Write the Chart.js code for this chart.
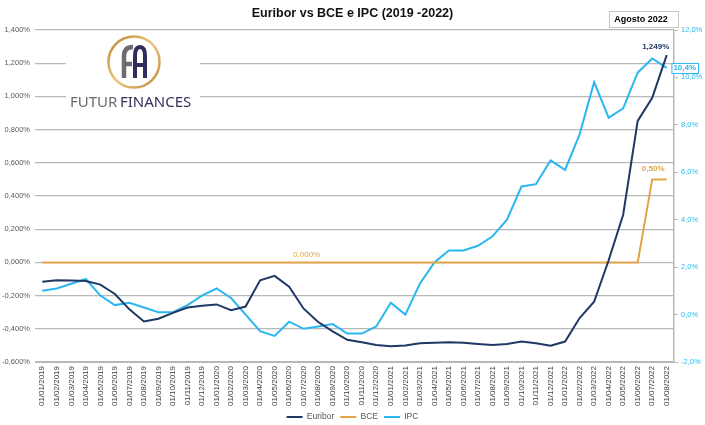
<!DOCTYPE html>
<html>
<head>
<meta charset="utf-8">
<script src="https://cdn.jsdelivr.net/npm/chart.js@4.4.1/dist/chart.umd.min.js"></script>
<style>
  html, body { margin: 0; padding: 0; background: #fff; }
  #wrap { width: 705px; height: 425px; }
</style>
</head>
<body>
<div id="wrap"><canvas id="chart"></canvas></div>
<script>
// Monthly data, 01/2019 - 08/2022
const months = [
    '01/01/2019', '01/02/2019', '01/03/2019', '01/04/2019', '01/05/2019', '01/06/2019',
    '01/07/2019', '01/08/2019', '01/09/2019', '01/10/2019', '01/11/2019', '01/12/2019',
    '01/01/2020', '01/02/2020', '01/03/2020', '01/04/2020', '01/05/2020', '01/06/2020',
    '01/07/2020', '01/08/2020', '01/09/2020', '01/10/2020', '01/11/2020', '01/12/2020',
    '01/01/2021', '01/02/2021', '01/03/2021', '01/04/2021', '01/05/2021', '01/06/2021',
    '01/07/2021', '01/08/2021', '01/09/2021', '01/10/2021', '01/11/2021', '01/12/2021',
    '01/01/2022', '01/02/2022', '01/03/2022', '01/04/2022', '01/05/2022', '01/06/2022',
    '01/07/2022', '01/08/2022'
];

// Euribor 12M (%), left axis
const euribor = [
    -0.116, -0.108, -0.109, -0.112, -0.134, -0.190, -0.283, -0.356, -0.339, -0.304, -0.272, -0.261,
    -0.253, -0.288, -0.266, -0.108, -0.081, -0.147, -0.279, -0.359, -0.415, -0.466, -0.481, -0.497,
    -0.505, -0.501, -0.487, -0.484, -0.481, -0.484, -0.491, -0.498, -0.492, -0.477, -0.487, -0.502,
    -0.477, -0.335, -0.237, 0.013, 0.287, 0.852, 0.992, 1.249
];

// BCE rate (%), left axis
const bce = [
    0, 0, 0, 0, 0, 0, 0, 0, 0, 0, 0, 0,
    0, 0, 0, 0, 0, 0, 0, 0, 0, 0, 0, 0,
    0, 0, 0, 0, 0, 0, 0, 0, 0, 0, 0, 0,
    0, 0, 0, 0, 0, 0, 0.5, 0.5
];

// IPC (%), right axis
const ipc = [
    1.0, 1.1, 1.3, 1.5, 0.8, 0.4, 0.5, 0.3, 0.1, 0.1, 0.4, 0.8,
    1.1, 0.7, 0.0, -0.7, -0.9, -0.3, -0.6, -0.5, -0.4, -0.8, -0.8, -0.5,
    0.5, 0.0, 1.3, 2.2, 2.7, 2.7, 2.9, 3.3, 4.0, 5.4, 5.5, 6.5,
    6.1, 7.6, 9.8, 8.3, 8.7, 10.2, 10.8, 10.4
];

const leftTicks = { min: -0.6, max: 1.4, step: 0.2 };
const rightTicks = { min: -2, max: 12, step: 2 };

const NAVY = '#1f3864';
const GOLD = '#e1a548';
const SKY = '#2bb7ef';
const GRID = '#b8b8b8';

function pct(v, d) {
    return v.toFixed(d).replace('.', ',') + '%';
}

// point labels drawn next to a few points
const pointLabels = [
    { ds: 1, i: 18, dec: 3, color: GOLD, bold: false, dx: 3, dy: -8 },
    { ds: 1, i: 42, dec: 2, color: GOLD, bold: true, dx: 1, dy: -11 },
    { ds: 0, i: 43, dec: 3, color: NAVY, bold: true, dx: -11, dy: -8 },
    { ds: 2, i: 43, dec: 1, color: SKY, bold: true, dx: 18, dy: 0, box: true }
];

const labelPlugin = {
    id: 'pointLabels',
    afterDatasetsDraw(chart) {
        const ctx = chart.ctx;
        ctx.save();
        ctx.textAlign = 'center';
        ctx.textBaseline = 'middle';
        pointLabels.forEach(l => {
            const pt = chart.getDatasetMeta(l.ds).data[l.i];
            const val = chart.data.datasets[l.ds].data[l.i];
            const txt = pct(val, l.dec);
            const x = pt.x + l.dx, y = pt.y + l.dy;
            ctx.font = (l.bold ? 'bold ' : '') + '8px "Liberation Sans", Arial, sans-serif';
            if (l.box) {
                const w = ctx.measureText(txt).width + 4;
                ctx.fillStyle = '#fff';
                ctx.fillRect(x - w / 2, y - 5, w, 10);
                ctx.strokeStyle = SKY;
                ctx.lineWidth = 1;
                ctx.strokeRect(x - w / 2 + 0.5, y - 4.5, w, 10);
            }
            ctx.fillStyle = l.color;
            ctx.fillText(txt, x, y);
        });
        // "Agosto 2022" box
        ctx.fillStyle = '#fff';
        ctx.fillRect(609, 11, 70, 17);
        ctx.strokeStyle = '#c8c8c8';
        ctx.strokeRect(609.5, 11.5, 69, 16);
        ctx.fillStyle = '#000';
        ctx.font = 'bold 9px "Liberation Sans", Arial, sans-serif';
        ctx.fillText('Agosto 2022', 641, 20);
        ctx.restore();
    }
};

const logoPlugin = {
    id: 'logo',
    beforeDatasetsDraw(chart) {
        const ctx = chart.ctx;
        ctx.save();
        ctx.fillStyle = '#fff';
        ctx.fillRect(66, 34, 134, 78);
        // gold ring
        const g = ctx.createLinearGradient(108, 36, 160, 88);
        g.addColorStop(0, '#b8812d');
        g.addColorStop(0.5, '#ecc680');
        g.addColorStop(1, '#bf8832');
        ctx.strokeStyle = g;
        ctx.lineWidth = 2.5;
        ctx.beginPath();
        ctx.arc(134, 62, 25.5, 0, Math.PI * 2);
        ctx.stroke();
        // F (grey)
        ctx.lineCap = 'butt';
        ctx.strokeStyle = '#6e6a71';
        ctx.lineWidth = 4.5;
        ctx.beginPath();
        ctx.moveTo(124, 78);
        ctx.lineTo(124, 56);
        ctx.quadraticCurveTo(124, 47, 133, 47);
        ctx.moveTo(124, 64);
        ctx.lineTo(132, 64);
        ctx.stroke();
        // A (navy)
        ctx.strokeStyle = '#2f2b5c';
        ctx.lineWidth = 4;
        ctx.beginPath();
        ctx.moveTo(135, 78);
        ctx.lineTo(135, 56);
        ctx.quadraticCurveTo(135, 47, 140, 47);
        ctx.quadraticCurveTo(145, 47, 145, 56);
        ctx.lineTo(145, 78);
        ctx.moveTo(135, 65);
        ctx.lineTo(145, 65);
        ctx.stroke();
        // name
        ctx.textBaseline = 'alphabetic';
        ctx.font = '15px "Noto Sans", "Liberation Sans", sans-serif';
        ctx.fillStyle = '#6e6a71';
        ctx.fillText('FUTUR', 70, 107, 49);
        ctx.fillStyle = '#35325e';
        ctx.fillText('FINANCES', 120, 107, 76);
        ctx.restore();
    }
};

const ctx = document.getElementById('chart').getContext('2d');
const chart = new Chart(ctx, {
    type: 'line',
    data: {
        labels: months,
        datasets: [{
            label: 'Euribor',
            data: euribor,
            yAxisID: 'y',
            borderColor: NAVY,
            backgroundColor: NAVY,
            borderWidth: 2,
            pointRadius: 0,
            tension: 0
        }, {
            label: 'BCE',
            data: bce,
            yAxisID: 'y',
            borderColor: GOLD,
            backgroundColor: GOLD,
            borderWidth: 2,
            pointRadius: 0,
            tension: 0
        }, {
            label: 'IPC',
            data: ipc,
            yAxisID: 'y1',
            borderColor: SKY,
            backgroundColor: SKY,
            borderWidth: 2,
            pointRadius: 0,
            tension: 0
        }]
    },
    options: {
        responsive: true,
        maintainAspectRatio: false,
        animation: false,
        layout: { padding: { left: 0, right: 0, top: 0, bottom: -6.25 } },
        plugins: {
            title: {
                display: true,
                text: 'Euribor vs BCE e IPC (2019 -2022)',
                color: '#111',
                font: { family: '"Liberation Sans", Arial, sans-serif', size: 12.5, weight: 'bold' },
                padding: { top: 6, bottom: 9 }
            },
            legend: {
                position: 'bottom',
                labels: {
                    color: '#595959',
                    font: { family: '"Liberation Sans", Arial, sans-serif', size: 8.5 },
                    boxWidth: 16,
                    boxHeight: 2,
                    padding: 6,
                    generateLabels(chart) {
                        const items = Chart.defaults.plugins.legend.labels.generateLabels(chart);
                        items.forEach(it => { it.fillStyle = it.strokeStyle; it.lineWidth = 0; });
                        return items;
                    }
                }
            },
            tooltip: { enabled: false }
        },
        scales: {
            x: {
                offset: true,
                grid: { display: false, drawTicks: false },
                border: { display: true, color: GRID },
                ticks: {
                    autoSkip: false,
                    minRotation: 90,
                    maxRotation: 90,
                    padding: 4,
                    color: '#404040',
                    font: { family: '"Liberation Sans", Arial, sans-serif', size: 8 }
                },
                afterFit(s) { s.height = 44.75; }
            },
            y: {
                position: 'left',
                min: leftTicks.min,
                max: leftTicks.max,
                grid: { color: GRID, lineWidth: 1.2, drawTicks: false },
                border: { display: false },
                ticks: {
                    stepSize: leftTicks.step,
                    padding: 5,
                    color: '#595959',
                    font: { family: '"Liberation Sans", Arial, sans-serif', size: 7.5 },
                    callback: v => pct(v, 3)
                },
                afterFit(s) { s.width = 35; }
            },
            y1: {
                position: 'right',
                min: rightTicks.min,
                max: rightTicks.max,
                grid: { drawOnChartArea: false, color: GRID, tickLength: 4 },
                border: { display: true, color: GRID, width: 1.5 },
                ticks: {
                    stepSize: rightTicks.step,
                    padding: 3,
                    color: SKY,
                    font: { family: '"Liberation Sans", Arial, sans-serif', size: 7.5 },
                    callback: v => pct(v, 1)
                },
                afterFit(s) { s.width = 31; }
            }
        }
    },
    plugins: [logoPlugin, labelPlugin]
});
</script>
</body>
</html>
